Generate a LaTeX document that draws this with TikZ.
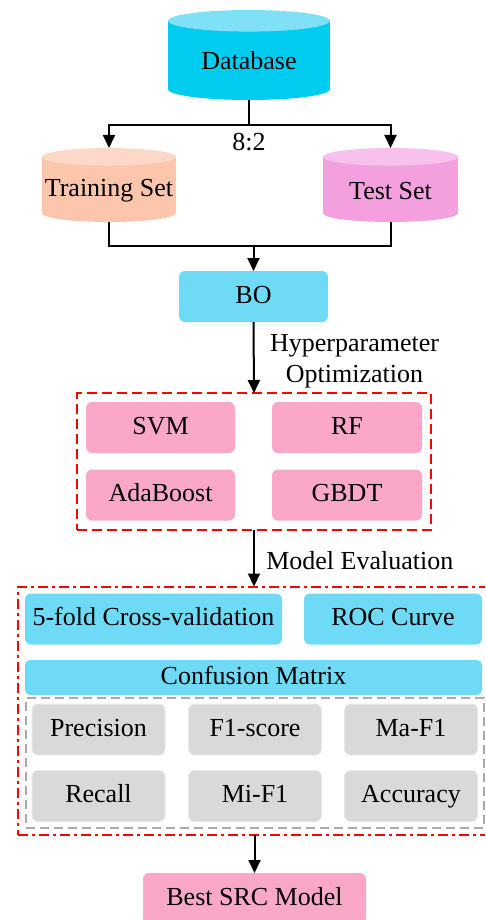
\documentclass[tikz,border=0pt]{standalone}
\usepackage{fontspec}
\setmainfont{Liberation Serif}
\usepackage{tikz}
\usetikzlibrary{arrows.meta}
\usetikzlibrary{fit}

\definecolor{dbcyan}{RGB}{0,204,240}
\definecolor{dbcyantop}{RGB}{128,224,246}
\definecolor{trainpeach}{RGB}{251,198,172}
\definecolor{trainpeachtop}{RGB}{252,216,200}
\definecolor{testpink}{RGB}{245,160,222}
\definecolor{testpinktop}{RGB}{248,192,236}
\definecolor{stepblue}{RGB}{110,218,246}
\definecolor{modelpink}{RGB}{251,167,200}
\definecolor{metricgray}{RGB}{217,217,217}
\definecolor{metricedge}{RGB}{232,232,232}
\definecolor{framegray}{RGB}{170,170,170}

\tikzset{
    flowline/.style={line width=2pt},
    flowarrow/.style={flowline, -{Triangle[length=13pt,width=12pt]}},
    stepbox/.style={rounded corners=6pt, minimum height=51, outer sep=0pt,
        text height=18pt, text depth=5pt},
    bluestep/.style={stepbox, fill=stepblue},
    pinkstep/.style={stepbox, fill=modelpink},
    metricbox/.style={stepbox, fill=metricgray, draw=metricedge, line width=1pt, minimum width=133},
    tunedframe/.style={draw=red, line width=2pt, dash pattern=on 10pt off 5pt,
        inner sep=9pt, outer sep=0pt},
    evalframe/.style={draw=red, line width=2pt, dash pattern=on 10pt off 4pt on 3pt off 4pt,
        inner sep=7pt, outer sep=0pt},
    metricframe/.style={draw=framegray, line width=2pt, dash pattern=on 9pt off 5pt,
        inner xsep=6pt, inner ysep=6.5pt, outer sep=0pt}
}
\newcommand{\dbcylinder}[8] {
	\fill[#6] (#2,#3+#5/2-0.12*#5) ellipse [x radius=#4/2, y radius=0.12*#5];
	\fill[#6] (#2-#4/2,#3-#5/2+0.12*#5) rectangle (#2+#4/2,#3+#5/2-0.12*#5);
	\fill[#7] (#2,#3-#5/2+0.12*#5) ellipse [x radius=#4/2, y radius=0.12*#5];
	\node[minimum width=#4, minimum height=#5, outer sep=0pt] (#1) at (#2,#3) {\raisebox{-6pt}[\height][\depth]{#8}};
}

\begin{document}
\begin{tikzpicture}[x=1pt, y=-1pt, font=\fontsize{26}{31}\selectfont]
		\useasboundingbox (0,0) rectangle (485,920);
		\clip (0,0) rectangle (485,920);

		% Data split
		\dbcylinder{db}{249}{55}{162}{90}{dbcyan}{dbcyantop}{Database}
		\dbcylinder{train}{109}{185}{134}{74}{trainpeach}{trainpeachtop}{Training Set}
		\dbcylinder{test}{390.5}{185}{135}{74}{testpink}{testpinktop}{Test Set}
		\coordinate (split) at (249,125);
		\draw[flowline] (db.south) -- (split) node[below=4pt] {8:2};
		\draw[flowarrow] (split) -| (train.north);
		\draw[flowarrow] (split) -| (test.north);

		% Optimization
		\node[bluestep, minimum width=149] (bo) at (253.5,296.5) {BO};
		\coordinate (join) at (253.5,246);
		\draw[flowline] (train.south) |- (join) -| (test.south);
		\draw[flowarrow] (join) -- (bo.north);

		\node[pinkstep, minimum width=149] (svm) at (160.5,427.5) {SVM};
		\node[pinkstep, minimum width=150] (rf) at (347,427.5) {RF};
		\node[pinkstep, minimum width=149] (ada) at (160.5,495) {AdaBoost};
		\node[pinkstep, minimum width=150] (gbdt) at (347,495) {GBDT};
		\node[tunedframe, fit=(svm)(gbdt)] (models) {};
		\draw[flowarrow] (bo.south) -- node[right=12pt, yshift=-4pt, align=center] {Hyperparameter\\Optimization} (models.north);

		% Evaluation
		\node[bluestep, minimum width=257] (cv) at (153.5,619) {5-fold Cross-validation};
		\node[bluestep, minimum width=178] (roc) at (393,619) {ROC Curve};
		\node[bluestep, minimum width=457, minimum height=35, rounded corners=5pt] (cm) at (253.5,677.5) {Confusion Matrix};

		\node[metricbox] (prec) at (98.5,729.5) {Precision};
		\node[metricbox] (f1) at (255,729.5) {F1-score};
		\node[metricbox] (maf1) at (411,729.5) {Ma-F1};
		\node[metricbox] (rec) at (98.5,796) {Recall};
		\node[metricbox] (mif1) at (255,796) {Mi-F1};
		\node[metricbox] (acc) at (411,796) {Accuracy};
		\node[metricframe, fit=(prec)(acc)] (metrics) {};

		% frame runs past the right edge
		\coordinate (evalcorner) at (500,826);
		\node[evalframe, fit=(cv)(roc)(metrics)(evalcorner)] (eval) {};
		\draw[flowarrow] (models.south) -- node[right=8pt, yshift=-3pt] {Model Evaluation} (models.south |- eval.north);

		% Result
		\node[pinkstep, minimum width=223] (best) at (254.5,898.5) {Best SRC Model};
		\draw[flowarrow] (best.north |- eval.south) -- (best.north);

	\end{tikzpicture}
\end{document}
